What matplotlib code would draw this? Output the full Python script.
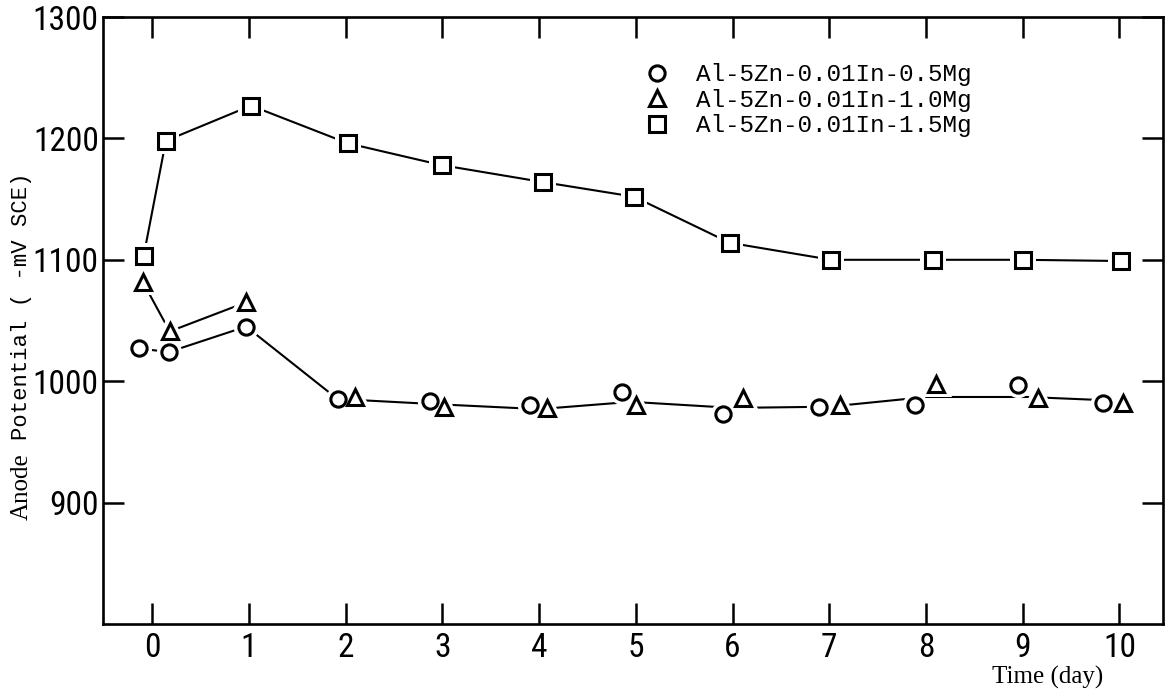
import matplotlib
matplotlib.use("Agg")
import matplotlib.pyplot as plt
from matplotlib import font_manager
from matplotlib.lines import Line2D

# Anode potential (-mV SCE) over immersion time (day) for three Mg contents
t_05 = [-0.14, 0.17, 0.97, 1.92, 2.87, 3.91, 4.86, 5.90, 6.89, 7.89, 8.95, 9.83]
e_05 = [1027, 1024, 1045, 985, 984, 980, 991, 973, 979, 980, 997, 982]

t_10 = [-0.10, 0.18, 0.97, 2.10, 3.02, 4.08, 5.00, 6.11, 7.11, 8.10, 9.16, 10.04]
e_10 = [1082, 1041, 1065, 987, 979, 978, 980, 986, 980, 998, 986, 982]

t_15 = [-0.09, 0.14, 1.02, 2.02, 2.99, 4.04, 4.98, 5.97, 7.02, 8.07, 9.00, 10.02]
e_15 = [1103, 1198, 1227, 1196, 1178, 1164, 1152, 1114, 1100, 1100, 1100, 1099]

# common curve drawn through the 0.5Mg / 1.0Mg pairs from day 2 on
trend_t = [2.0, 2.95, 4.0, 4.95, 6.0, 7.0, 8.0, 9.05, 9.95]
trend_e = [985, 981, 977, 983, 978, 979, 987, 987, 984]

labels = ["Al-5Zn-0.01In-0.5Mg", "Al-5Zn-0.01In-1.0Mg", "Al-5Zn-0.01In-1.5Mg"]
x_ticks = list(range(0, 11))
y_ticks = [900, 1000, 1100, 1200, 1300]

MONO = ["Liberation Mono", "DejaVu Sans Mono"]
SERIF = ["Liberation Serif", "DejaVu Serif"]


def narrow_font():
    """Pick a narrow sans for the tick numbers, whatever is installed."""
    fonts = font_manager.fontManager.ttflist
    names = {f.name for f in fonts}
    for name in ["Liberation Sans Narrow", "Roboto Condensed", "Open Sans Condensed"]:
        if name in names:
            return dict(family=name, size=24)
    for f in fonts:
        if f.name == "DejaVu Sans" and f.stretch == "condensed" and f.weight in (400, "normal"):
            return dict(fname=f.fname, size=23)
    return dict(family="Roboto", size=20)


tick_spec = narrow_font()
if "fname" in tick_spec:
    tick_prop = font_manager.FontProperties(fname=tick_spec["fname"], size=tick_spec["size"])
else:
    tick_prop = font_manager.FontProperties(family=tick_spec["family"], size=tick_spec["size"])

fig = plt.figure(figsize=(11.66, 6.93), dpi=100)
ax = fig.add_axes([103 / 1166, 1 - 624 / 693, 1060 / 1166, 607 / 693])

lw = 1.5
ms = 11
mew = 2.2

# connecting lines
ax.plot(t_05[:4], e_05[:4], color="black", lw=lw, zorder=1)
ax.plot(t_10[:3], e_10[:3], color="black", lw=lw, zorder=1)
ax.plot(t_15, e_15, color="black", lw=lw, zorder=1)
ax.plot(trend_t, trend_e, color="black", lw=lw, zorder=1)

# markers with a white halo so the lines stop short of them
for t, e, m in [(t_05, e_05, "o"), (t_10, e_10, "^"), (t_15, e_15, "s")]:
    ax.plot(t, e, ls="none", marker=m, ms=ms, mfc="white", mec="white",
            mew=mew + 5, zorder=2)
    ax.plot(t, e, ls="none", marker=m, ms=ms, mfc="white", mec="black",
            mew=mew, zorder=3)

ax.set_xlim(-0.51, 10.45)
ax.set_ylim(800, 1300)
ax.set_xticks(x_ticks)
ax.set_yticks(y_ticks)

for side in ax.spines.values():
    side.set_linewidth(1.9)

ax.tick_params(axis="both", which="major", direction="in", length=15, width=1.8,
               top=True, right=True)
ax.tick_params(axis="x", pad=6)
ax.tick_params(axis="y", pad=3)
for lab in ax.get_xticklabels() + ax.get_yticklabels():
    lab.set_fontproperties(tick_prop)

# y label: serif first word, typewriter remainder
fig.text(22 / 1166, 1 - 520 / 693, "Anode", rotation=90, family=SERIF,
         fontsize=18, ha="center", va="bottom")
fig.text(22 / 1166, 1 - 440 / 693, "Potential ( -mV SCE)", rotation=90,
         family=MONO, fontsize=16, ha="center", va="bottom")

fig.text(1048 / 1166, 1 - 677 / 693, "Time (day)", family=SERIF, fontsize=18,
         ha="center", va="center")

handles = [
    Line2D([], [], ls="none", marker=m, ms=ms, mfc="white", mec="black", mew=mew)
    for m in ["o", "^", "s"]
]
leg = fig.legend(handles, labels, loc="upper left",
                 bbox_to_anchor=(633 / 1166, 1 - 51 / 693), frameon=False,
                 prop={"family": MONO, "size": 17.5}, handlelength=1.0,
                 handletextpad=1.1, labelspacing=0.1, borderpad=0)

fig.savefig("out.png", dpi=100)
